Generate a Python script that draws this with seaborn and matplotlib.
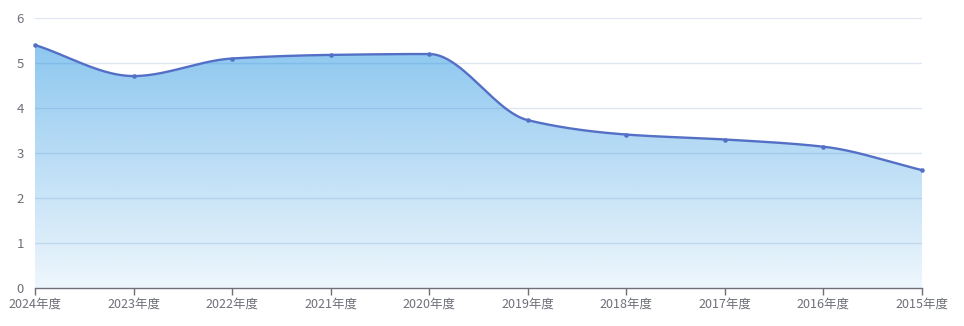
import numpy as np
import pandas as pd
import matplotlib
matplotlib.use("Agg")
import matplotlib.pyplot as plt
import seaborn as sns

categories = ["2024年度", "2023年度", "2022年度", "2021年度", "2020年度",
              "2019年度", "2018年度", "2017年度", "2016年度", "2015年度"]
values = [5.40, 4.71, 5.10, 5.18, 5.20, 3.73, 3.41, 3.30, 3.14, 2.62]
yticks = [0, 1, 2, 3, 4, 5, 6]

sns.set_theme(style="white")
plt.rcParams['font.family'] = ['Noto Sans CJK SC', 'DejaVu Sans']

def pchip(x, y, xs):
    x = np.asarray(x, float); y = np.asarray(y, float)
    h = np.diff(x); d = np.diff(y) / h
    n = len(x); m = np.zeros(n)
    for k in range(1, n - 1):
        if d[k - 1] * d[k] <= 0:
            m[k] = 0
        else:
            w1 = 2 * h[k] + h[k - 1]; w2 = h[k] + 2 * h[k - 1]
            m[k] = (w1 + w2) / (w1 / d[k - 1] + w2 / d[k])
    m[0] = d[0]; m[-1] = d[-1]
    out = np.empty_like(xs)
    for i, xv in enumerate(xs):
        k = min(max(np.searchsorted(x, xv) - 1, 0), n - 2)
        t = (xv - x[k]) / h[k]
        h00 = 2*t**3 - 3*t**2 + 1; h10 = t**3 - 2*t**2 + t
        h01 = -2*t**3 + 3*t**2; h11 = t**3 - t**2
        out[i] = h00*y[k] + h10*h[k]*m[k] + h01*y[k+1] + h11*h[k]*m[k+1]
    return out

xpos = np.arange(len(categories))
xs = np.linspace(0, len(categories) - 1, 900)
ys = pchip(xpos, values, xs)
smooth_df = pd.DataFrame({"x": xs, "y": ys})
pts_df = pd.DataFrame({"x": xpos, "y": values})

fig = plt.figure(figsize=(9.64, 3.26), dpi=100)
ax = fig.add_axes([35/964, 38/326, (922-35)/964, 270/326])

ax.set_xlim(0, len(categories) - 1)
ax.set_ylim(0, 6)

for t in yticks[1:]:
    ax.axhline(t, color="#e0e6f1", lw=1, zorder=0)

ymax = max(values)
grad = np.linspace(0, 1, 256).reshape(-1, 1)
img = np.zeros((256, 1, 4))
img[..., :3] = np.array([0/255, 130/255, 220/255])
img[..., 3] = 0.07 + 0.38 * grad
im = ax.imshow(img, extent=[0, len(categories) - 1, 0, ymax], origin="lower",
               aspect="auto", zorder=1, interpolation="bilinear")
clip = plt.Polygon(np.column_stack([np.r_[xs, xs[-1], xs[0]], np.r_[ys, 0, 0]]),
                   closed=True, transform=ax.transData)
im.set_clip_path(clip)

sns.lineplot(data=smooth_df, x="x", y="y", ax=ax, color="#5470c6", lw=1.7, zorder=3)
sns.scatterplot(data=pts_df, x="x", y="y", ax=ax, color="#5470c6", s=9,
                edgecolor="#5470c6", zorder=4, clip_on=False)

ax.set_xticks(xpos)
ax.set_xticklabels(categories)
ax.set_yticks(yticks)
ax.set_xlabel(""); ax.set_ylabel("")
for s in ["top", "right", "left"]:
    ax.spines[s].set_visible(False)
ax.spines["bottom"].set_color("#6e7079")
ax.spines["bottom"].set_linewidth(1)
ax.tick_params(axis="x", colors="#6e7079", length=5, width=1, direction="out",
               labelsize=9, pad=2, bottom=True)
ax.tick_params(axis="y", colors="#6e7079", length=0, labelsize=9.5, pad=8)
ax.grid(False)

fig.savefig("out.png", dpi=100)
